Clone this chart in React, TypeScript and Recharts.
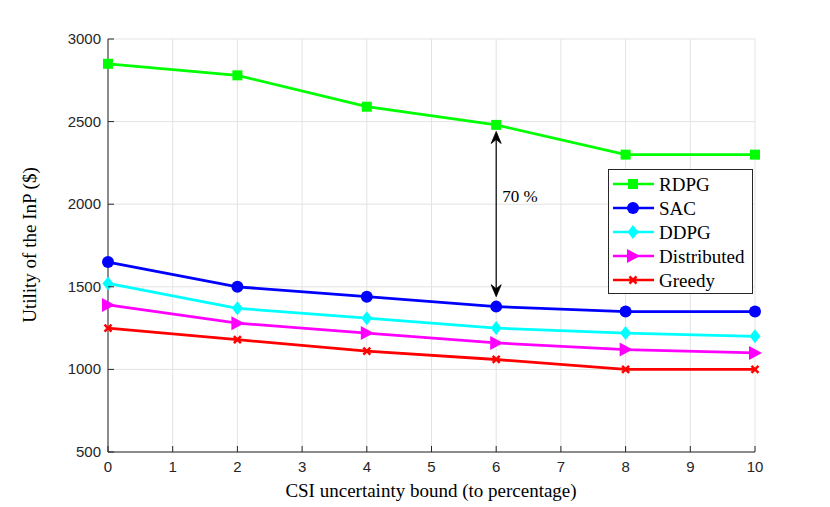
import React from "react";
import {
  LineChart,
  Line,
  XAxis,
  YAxis,
  CartesianGrid,
  Legend,
  ReferenceLine,
} from "recharts";

const xValues = [0, 2, 4, 6, 8, 10];
const rdpg = [2850, 2780, 2590, 2480, 2300, 2300];
const sac = [1650, 1500, 1440, 1380, 1350, 1350];
const ddpg = [1520, 1370, 1310, 1250, 1220, 1200];
const distributed = [1390, 1280, 1220, 1160, 1120, 1100];
const greedy = [1250, 1180, 1110, 1060, 1000, 1000];

const xTicks = [0, 1, 2, 3, 4, 5, 6, 7, 8, 9, 10];
const yTicks = [500, 1000, 1500, 2000, 2500, 3000];

const annotationX = 6;
const annotationTop = 2440;
const annotationBottom = 1440;
const annotationText = "70 %";

const series = [
  { key: "rdpg", name: "RDPG", color: "#00ff00", shape: "square" },
  { key: "sac", name: "SAC", color: "#0000ff", shape: "circle" },
  { key: "ddpg", name: "DDPG", color: "#00ffff", shape: "diamond" },
  { key: "distributed", name: "Distributed", color: "#ff00ff", shape: "triangle" },
  { key: "greedy", name: "Greedy", color: "#ff0000", shape: "x" },
];

const data = xValues.map((x, i) => ({
  x,
  rdpg: rdpg[i],
  sac: sac[i],
  ddpg: ddpg[i],
  distributed: distributed[i],
  greedy: greedy[i],
}));

const AXIS = "#262626";
const SERIF = "'Liberation Serif', 'Times New Roman', serif";
const SANS = "'Liberation Sans', Helvetica, Arial, sans-serif";

function Marker({ shape, cx, cy, color }: any) {
  if (cx == null || cy == null) return null;
  switch (shape) {
    case "square":
      return <rect x={cx - 5} y={cy - 5} width={10} height={10} fill={color} />;
    case "circle":
      return <circle cx={cx} cy={cy} r={6} fill={color} />;
    case "diamond":
      return (
        <polygon
          points={`${cx},${cy - 7} ${cx + 5.5},${cy} ${cx},${cy + 7} ${cx - 5.5},${cy}`}
          fill={color}
        />
      );
    case "triangle":
      return (
        <polygon
          points={`${cx - 6},${cy - 7} ${cx + 7},${cy} ${cx - 6},${cy + 7}`}
          fill={color}
        />
      );
    case "x":
    default:
      return (
        <g stroke={color} strokeWidth={2.5}>
          <line x1={cx - 3.5} y1={cy - 3.5} x2={cx + 3.5} y2={cy + 3.5} />
          <line x1={cx - 3.5} y1={cy + 3.5} x2={cx + 3.5} y2={cy - 3.5} />
        </g>
      );
  }
}

const BottomTick = ({ x, y, payload }: any) => (
  <g>
    <line x1={x} y1={y} x2={x} y2={y - 6} stroke={AXIS} />
    <text x={x} y={y + 20} textAnchor="middle" fontFamily={SANS} fontSize={15} fill={AXIS}>
      {payload.value}
    </text>
  </g>
);
const TopTick = ({ x, y }: any) => (
  <line x1={x} y1={y} x2={x} y2={y + 6} stroke={AXIS} />
);
const LeftTick = ({ x, y, payload }: any) => (
  <g>
    <line x1={x} y1={y} x2={x + 6} y2={y} stroke={AXIS} />
    <text x={x - 7} y={y + 5} textAnchor="end" fontFamily={SANS} fontSize={15} fill={AXIS}>
      {payload.value}
    </text>
  </g>
);
const RightTick = ({ x, y }: any) => (
  <line x1={x} y1={y} x2={x - 6} y2={y} stroke={AXIS} />
);

const ArrowShape = (props: any) => {
  const { x1, y1, x2, y2 } = props;
  if (x1 == null) return null;
  const top = Math.min(y1, y2);
  const bot = Math.max(y1, y2);
  const x = x1;
  const head = (tipY: number, dir: number) => {
    const back = tipY + dir * 12;
    const notch = tipY + dir * 8;
    return (
      <path
        d={`M${x},${tipY} L${x - 5},${back} L${x},${notch} L${x + 5},${back} Z`}
        fill="#000"
        stroke="#000"
        strokeWidth={0.8}
      />
    );
  };
  return (
    <g>
      <line x1={x} y1={top + 4} x2={x} y2={bot - 4} stroke="#000" strokeWidth={1.2} />
      {head(top, 1)}
      {head(bot, -1)}
      <text x={x + 6} y={(top + bot) / 2 - 12} fontFamily={SERIF} fontSize={17} fill="#000">
        {annotationText}
      </text>
    </g>
  );
};

const LegendBox = () => (
  <svg width={145} height={125} style={{ display: "block" }}>
    <rect x={0.5} y={0.5} width={144} height={124} fill="#fff" stroke={AXIS} strokeWidth={1} />
    {series.map((s, i) => {
      const cy = 15 + i * 24;
      return (
        <g key={s.key}>
          <line x1={5} y1={cy} x2={46} y2={cy} stroke={s.color} strokeWidth={2.5} />
          <Marker shape={s.shape} cx={25} cy={cy} color={s.color} />
          <text x={51} y={cy + 6.5} fontFamily={SERIF} fontSize={19} fill="#000">
            {s.name}
          </text>
        </g>
      );
    })}
  </svg>
);

export default function App() {
  return (
    <div style={{ position: "absolute", left: 0, top: 0, width: 830, height: 507, background: "#fff" }}>
      <LineChart
        width={830}
        height={507}
        data={data}
        margin={{ top: 39, right: 75, bottom: 25, left: 58 }}
      >
        <CartesianGrid stroke="#e3e3e3" strokeWidth={1} />
        <XAxis
          dataKey="x"
          type="number"
          domain={[0, 10]}
          ticks={xTicks}
          height={30}
          tickSize={0}
          tickMargin={0}
          tickLine={false}
          axisLine={{ stroke: AXIS }}
          tick={<BottomTick />}
          interval={0}
        />
        <XAxis
          xAxisId="top"
          orientation="top"
          dataKey="x"
          type="number"
          domain={[0, 10]}
          ticks={xTicks}
          height={0}
          tickSize={0}
          tickMargin={0}
          tickLine={false}
          axisLine={{ stroke: AXIS }}
          tick={<TopTick />}
          interval={0}
        />
        <YAxis
          type="number"
          domain={[500, 3000]}
          ticks={yTicks}
          width={50}
          tickSize={0}
          tickMargin={0}
          tickLine={false}
          axisLine={{ stroke: AXIS }}
          tick={<LeftTick />}
          interval={0}
        />
        <YAxis
          yAxisId="right"
          orientation="right"
          type="number"
          domain={[500, 3000]}
          ticks={yTicks}
          width={0}
          tickSize={0}
          tickMargin={0}
          tickLine={false}
          axisLine={{ stroke: AXIS }}
          tick={<RightTick />}
          interval={0}
        />
        <ReferenceLine
          segment={[
            { x: annotationX, y: annotationTop },
            { x: annotationX, y: annotationBottom },
          ]}
          shape={ArrowShape}
          ifOverflow="visible"
        />
        {series.map((s) => (
          <Line
            key={s.key}
            dataKey={s.key}
            name={s.name}
            stroke={s.color}
            strokeWidth={2.8}
            isAnimationActive={false}
            dot={(p: any) => (
              <Marker key={`${s.key}-${p.index}`} shape={s.shape} cx={p.cx} cy={p.cy} color={s.color} />
            )}
            activeDot={false}
          />
        ))}
        <Legend
          layout="horizontal"
          verticalAlign="middle"
          align="center"
          content={<LegendBox />}
          wrapperStyle={{ position: "absolute", left: 608, top: 169, width: 145, height: 125 }}
        />
        <text
          x={431}
          y={497}
          textAnchor="middle"
          fontFamily={SERIF}
          fontSize={19}
          fill="#000"
        >
          CSI uncertainty bound (to percentage)
        </text>
        <text
          x={36}
          y={245}
          textAnchor="middle"
          fontFamily={SERIF}
          fontSize={19}
          fill="#000"
          transform="rotate(-90 36 245)"
        >
          Utility of the InP ($)
        </text>
      </LineChart>
    </div>
  );
}
